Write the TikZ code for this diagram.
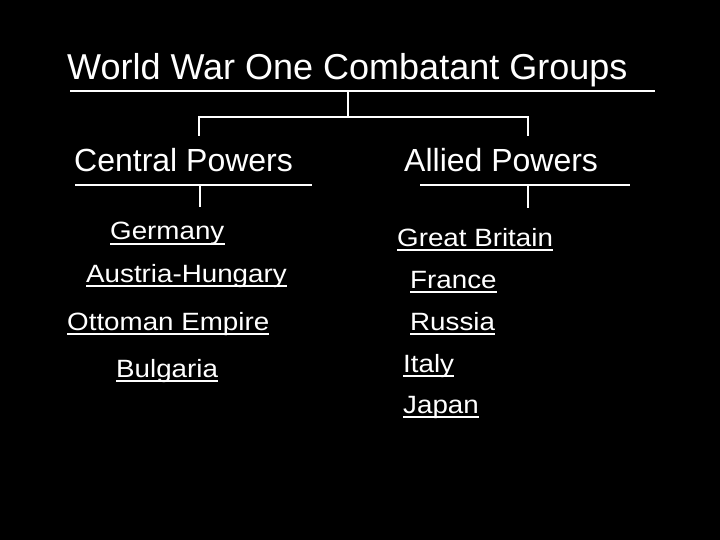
\documentclass[tikz,border=0pt]{standalone}
\usepackage{fontspec}
\setmainfont{Liberation Sans}
\newcommand{\wideitem}[1]{\scalebox{1.11}[1]{#1}}
\begin{document}
\begin{tikzpicture}[x=1pt,y=1pt,
  every node/.style={text=white,inner sep=0pt,anchor=base west},
  ttl/.style={font=\fontsize{36}{40}\selectfont},
  grp/.style={font=\fontsize{32}{36}\selectfont},
  itm/.style={font=\fontsize{25}{29}\selectfont},
  bar/.style={draw=white,line width=2.6pt},
  ul/.style={draw=white,line width=1.8pt}]
\fill[black] (0,0) rectangle (720,-540);
\useasboundingbox (0,0) rectangle (720,-540);
% headings
\node[ttl] (title) at (67,-80) {World War One Combatant Groups};
\node[grp] (central) at (74,-172) {Central Powers};
\node[grp] (allied) at (404,-172) {Allied Powers};
% tree lines
\coordinate (tl) at (70,-91);
\coordinate (tr) at (655,-91);
\coordinate (tm) at (348,-91);
\coordinate (cm) at (348,-117);
\coordinate (cl) at (199,-117);
\coordinate (cr) at (528,-117);
\coordinate (cld) at (199,-136);
\coordinate (crd) at (528,-136);
\coordinate (ctl) at (75,-185);
\coordinate (ctr) at (312,-185);
\coordinate (ctm) at (200,-185);
\coordinate (ctd) at (200,-207);
\coordinate (atl) at (420,-185);
\coordinate (atr) at (630,-185);
\coordinate (atm) at (528,-185);
\coordinate (atd) at (528,-208);
\draw[bar] (tl) -- (tr);
\draw[bar] (tm) -- (cm);
\draw[bar] (cld) -- (cl) -- (cr) -- (crd);
\draw[bar] (ctl) -- (ctr);
\draw[bar] (ctm) -- (ctd);
\draw[bar] (atl) -- (atr);
\draw[bar] (atm) -- (atd);
% items
\node[itm] (ger) at (110,-240) {\wideitem{Germany}};
\node[itm] (aus) at (86,-282) {\wideitem{Austria-Hungary}};
\node[itm] (ott) at (67,-330) {\wideitem{Ottoman Empire}};
\node[itm] (bul) at (116,-377) {\wideitem{Bulgaria}};
\node[itm] (gb) at (397,-246) {\wideitem{Great Britain}};
\node[itm] (fra) at (410,-288) {\wideitem{France}};
\node[itm] (rus) at (410,-330) {\wideitem{Russia}};
\node[itm] (ita) at (403,-372) {\wideitem{Italy}};
\node[itm] (jap) at (403,-413) {\wideitem{Japan}};
\foreach \n in {ger,aus,ott,bul,gb,fra,rus,ita,jap}
  \draw[ul] ([yshift=-4pt]\n.base west) -- ([yshift=-4pt]\n.base east);
\end{tikzpicture}
\end{document}
